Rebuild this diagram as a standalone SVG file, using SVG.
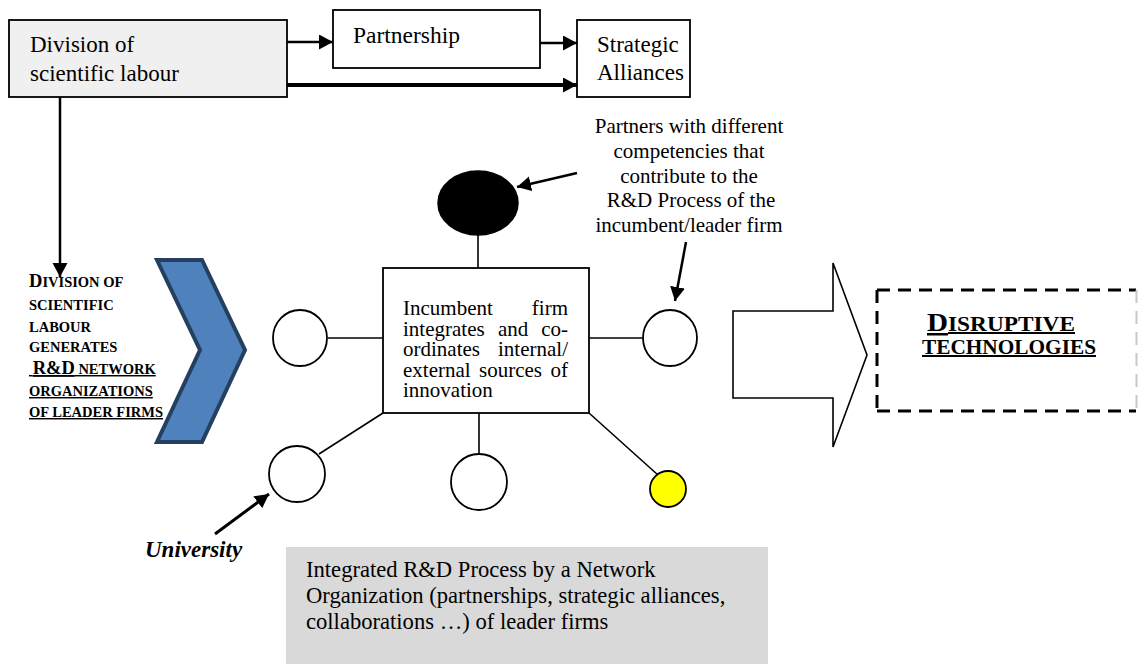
<svg xmlns="http://www.w3.org/2000/svg" width="1138" height="664" viewBox="0 0 1138 664" font-family="'Liberation Serif', 'Times New Roman', Times, serif">
<style>
text{font-family:'Liberation Serif','Times New Roman',Times,serif;fill:#000}
.box{fill:#fff;stroke:#000;stroke-width:1.8}
.node{fill:#fff;stroke:#000;stroke-width:1.8}
.thin{stroke:#000;stroke-width:1.6;fill:none}
.arr{stroke:#000;stroke-width:2.5;fill:none;marker-end:url(#ah)}
.arrb{stroke:#000;stroke-width:4;fill:none;marker-end:url(#ah)}
.t21{font-size:21px}
.sc{font-size:14.5px;font-weight:bold}
.big{font-size:18.5px}
.u{text-decoration:underline}
</style>
<defs>
<marker id="ah" markerUnits="userSpaceOnUse" markerWidth="16" markerHeight="16" refX="14" refY="7.5" orient="auto">
<path d="M0,0 L14,7.5 L0,15 z" fill="#000"/>
</marker>
</defs>

<g id="connectors">
<line class="arr" x1="287" y1="42" x2="333" y2="42"/>
<line class="arr" x1="540" y1="43" x2="577" y2="43"/>
<line class="arrb" x1="287" y1="85" x2="577" y2="85"/>
<line class="arr" x1="60" y1="97" x2="60" y2="277"/>
<line class="arr" x1="577" y1="173" x2="517" y2="187"/>
<line class="arr" x1="686" y1="242" x2="675" y2="301"/>
<line class="arr" x1="215" y1="534" x2="269" y2="494" style="stroke-width:3"/>
<line class="thin" x1="478" y1="235" x2="478" y2="268"/>
<line class="thin" x1="328" y1="338" x2="383" y2="338"/>
<line class="thin" x1="589" y1="338" x2="643" y2="338"/>
<line class="thin" x1="383" y1="413" x2="319" y2="454"/>
<line class="thin" x1="479" y1="413" x2="479" y2="454"/>
<line class="thin" x1="589" y1="413" x2="658" y2="475"/>
</g>

<g id="division">
<rect x="9" y="20" width="278" height="77" fill="#f0f0f0" stroke="#000" stroke-width="1.8"/>
<text style="font-size:23px"><tspan x="30" y="52">Division of</tspan><tspan x="30" y="81">scientific labour</tspan></text>
</g>

<g id="partnership">
<rect class="box" x="333" y="10" width="207" height="58"/>
<text x="353" y="43" style="font-size:23.5px">Partnership</text>
</g>

<g id="strategic">
<rect class="box" x="577" y="20" width="113" height="77"/>
<text style="font-size:23px"><tspan x="597" y="52">Strategic</tspan><tspan x="597" y="80">Alliances</tspan></text>
</g>

<g id="partners-note">
<text class="t21" text-anchor="middle"><tspan x="689" y="133">Partners with different</tspan><tspan x="689" y="158">competencies that</tspan><tspan x="689" y="183">contribute to the</tspan><tspan x="691" y="207">R&amp;D Process of the</tspan><tspan x="689" y="232">incumbent/leader firm</tspan></text>
</g>

<g id="black-partner">
<ellipse cx="478" cy="203" rx="40" ry="32" fill="#000" stroke="#000" stroke-width="1.5"/>
</g>

<g id="incumbent">
<rect class="box" x="383" y="268" width="206" height="145"/>
<text class="t21"><tspan x="403" y="315">Incumbent</tspan><tspan x="568" y="315" text-anchor="end">firm</tspan><tspan x="403" y="336">integrates</tspan><tspan x="498" y="336">and</tspan><tspan x="568" y="336" text-anchor="end">co-</tspan><tspan x="403" y="356">ordinates</tspan><tspan x="568" y="356" text-anchor="end">internal/</tspan><tspan x="403" y="377">external</tspan><tspan x="479" y="377">sources</tspan><tspan x="568" y="377" text-anchor="end">of</tspan><tspan x="403" y="397">innovation</tspan></text>
</g>

<g id="partner-left"><ellipse class="node" cx="300" cy="338" rx="27" ry="28"/></g>
<g id="partner-right"><ellipse class="node" cx="670" cy="338" rx="27" ry="28"/></g>
<g id="university-node"><ellipse class="node" cx="297" cy="474" rx="28" ry="28"/></g>
<g id="partner-bottom"><ellipse class="node" cx="479" cy="482" rx="28" ry="28"/></g>
<g id="partner-yellow"><ellipse cx="668" cy="489" rx="18" ry="18" fill="#ffff00" stroke="#000" stroke-width="1.8"/></g>

<g id="university-label">
<text x="145" y="557" style="font-size:23px;font-weight:bold;font-style:italic">University</text>
</g>

<g id="chevron">
<polygon points="157,260 202,260 245,350 202,442 157,442 200,350" fill="#4f81bd" stroke="#243f60" stroke-width="4" stroke-linejoin="miter"/>
</g>

<g id="division-generates">
<text class="sc"><tspan x="29" y="287"><tspan class="big">D</tspan>IVISION OF</tspan><tspan x="29" y="310">SCIENTIFIC</tspan><tspan x="29" y="332">LABOUR</tspan><tspan x="29" y="352">GENERATES</tspan></text>
<text class="sc u"><tspan x="29" y="374">&#160;<tspan class="big">R&amp;D</tspan> NETWORK</tspan><tspan x="29" y="396">ORGANIZATIONS</tspan><tspan x="29" y="417">OF LEADER FIRMS</tspan></text>
</g>

<g id="big-arrow">
<polygon points="733,311 833,311 833,263 867,355 833,447 833,398 733,398" fill="#fff" stroke="#000" stroke-width="1.6"/>
</g>

<g id="disruptive">
<path d="M877,290 H1136 M877,411 H1136 M877,290 V411" fill="none" stroke="#000" stroke-width="3" stroke-dasharray="13,8"/>
<line x1="1136.5" y1="290" x2="1136.5" y2="411" stroke="#c8c8c8" stroke-width="2" stroke-dasharray="13,8"/>
<text class="u" style="font-size:20px;font-weight:bold"><tspan x="927" y="331" textLength="148" lengthAdjust="spacingAndGlyphs"><tspan style="font-size:25px">D</tspan>ISRUPTIVE</tspan><tspan x="922" y="354" textLength="174" lengthAdjust="spacingAndGlyphs">TECHNOLOGIES</tspan></text>
</g>

<g id="integrated-process">
<rect x="286" y="547" width="482" height="117" fill="#d9d9d9"/>
<text style="font-size:22.6px"><tspan x="306" y="577">Integrated R&amp;D Process by a Network</tspan><tspan x="306" y="603">Organization (partnerships, strategic alliances,</tspan><tspan x="306" y="629">collaborations …) of leader firms</tspan></text>
</g>
</svg>
